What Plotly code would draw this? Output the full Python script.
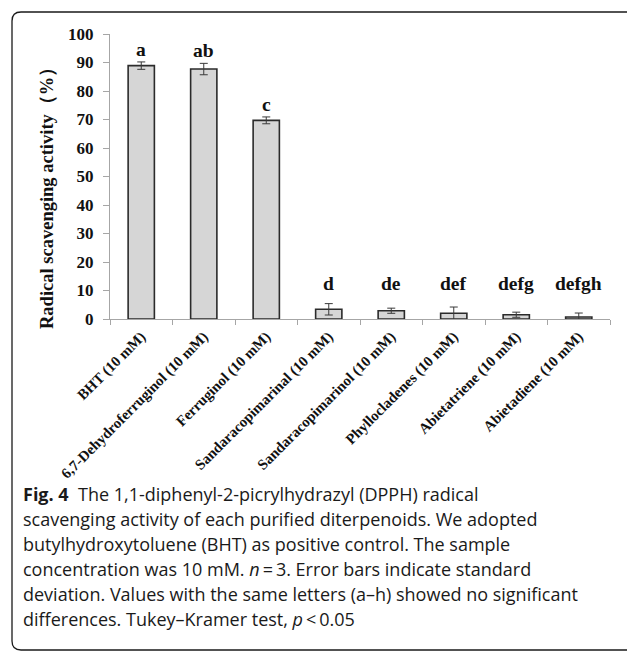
import plotly.graph_objects as go

# DPPH radical scavenging activity of purified diterpenoids (mean ± SD, n = 3)
compounds = [
    "BHT (10 mM)",
    "6,7-Dehydroferruginol (10 mM)",
    "Ferruginol (10 mM)",
    "Sandaracopimarinal (10 mM)",
    "Sandaracopimarinol (10 mM)",
    "Phyllocladenes (10 mM)",
    "Abietatriene (10 mM)",
    "Abietadiene (10 mM)",
]
activity = [88.9, 87.7, 69.7, 3.4, 2.9, 2.0, 1.5, 0.7]
sd = [1.3, 2.0, 1.2, 2.0, 0.9, 2.2, 0.9, 1.4]
letters = ["a", "ab", "c", "d", "de", "def", "defg", "defgh"]
y_ticks = list(range(0, 101, 10))

caption_lines = [
    "<b>Fig. 4</b>  The 1,1-diphenyl-2-picrylhydrazyl (DPPH) radical",
    "scavenging activity of each purified diterpenoids. We adopted",
    "butylhydroxytoluene (BHT) as positive control. The sample",
    "concentration was 10 mM. <i>n</i>\u2009=\u20093. Error bars indicate standard",
    "deviation. Values with the same letters (a\u2013h) showed no significant",
    "differences. Tukey\u2013Kramer test, <i>p</i>\u2009<\u20090.05",
]

W, H = 627, 654
PL, PR, PT, PB = 110, 610, 34, 319


def px(x):
    return (x - PL) / (PR - PL)


def py(y):
    return (PB - y) / (PB - PT)


serif = "Liberation Serif, Times New Roman, serif"
axis_grey = "#a6a6a6"

fig = go.Figure()
fig.add_trace(
    go.Bar(
        x=compounds,
        y=activity,
        width=0.42,
        marker=dict(color="#d6d6d6", line=dict(color="#2b2b2b", width=1.6)),
        error_y=dict(type="data", array=sd, visible=True,
                     color="#3a3a3a", thickness=1, width=4),
        showlegend=False,
        hoverinfo="skip",
    )
)

annotations = []

# significance letters above each bar
label_floor = 8.2
for name, v, e, t in zip(compounds, activity, sd, letters):
    annotations.append(dict(
        x=name, y=max(v + e, label_floor), xref="x", yref="y",
        text=f"<b>{t}</b>", showarrow=False, yanchor="bottom", yshift=0,
        font=dict(family=serif, size=19.5, color="#111111"),
    ))

# y-axis title
annotations.append(dict(
    x=px(47), y=py(194), xref="paper", yref="paper",
    text="<b>Radical scavenging activity\uff08%\uff09</b>", textangle=-90,
    showarrow=False, xanchor="center", yanchor="middle",
    font=dict(family=serif, size=18.5, color="#111111"),
))

# figure caption
for i, line in enumerate(caption_lines):
    annotations.append(dict(
        x=px(21), y=py(494 + 25 * i), xref="paper", yref="paper",
        text=line, showarrow=False, xanchor="left", yanchor="middle",
        align="left",
        font=dict(family="Open Sans, sans-serif", size=18.0, color="#1a1a1a"),
    ))

# rounded caption frame, open on the right
r = 9
x0, y0, y1, x1 = 12, 12, 650, 660
path = (
    f"M {px(x1)} {py(y0)} L {px(x0 + r)} {py(y0)} "
    f"Q {px(x0)} {py(y0)} {px(x0)} {py(y0 + r)} "
    f"L {px(x0)} {py(y1 - r)} "
    f"Q {px(x0)} {py(y1)} {px(x0 + r)} {py(y1)} "
    f"L {px(x1)} {py(y1)}"
)

fig.update_layout(
    width=W, height=H,
    margin=dict(l=PL, r=W - PR, t=PT, b=H - PB, pad=0),
    paper_bgcolor="white", plot_bgcolor="white",
    annotations=annotations,
    shapes=[dict(type="path", path=path, xref="paper", yref="paper",
                 line=dict(color="#1a1a1a", width=1.3))],
    xaxis=dict(
        showline=True, linecolor=axis_grey, linewidth=1.2,
        ticks="outside", tickson="boundaries", ticklen=5,
        tickcolor=axis_grey, tickangle=-45, showgrid=False,
        ticklabelstandoff=2,
        tickfont=dict(family=serif, size=14.8, color="#111111", weight="bold"),
    ),
    yaxis=dict(
        range=[0, 100], tickvals=y_ticks,
        showline=True, linecolor=axis_grey, linewidth=1.2,
        ticks="outside", ticklen=6, tickcolor=axis_grey,
        showgrid=False, zeroline=False, ticklabelstandoff=6,
        tickfont=dict(family=serif, size=17, color="#111111", weight="bold"),
    ),
)

fig.write_html("out.html")
